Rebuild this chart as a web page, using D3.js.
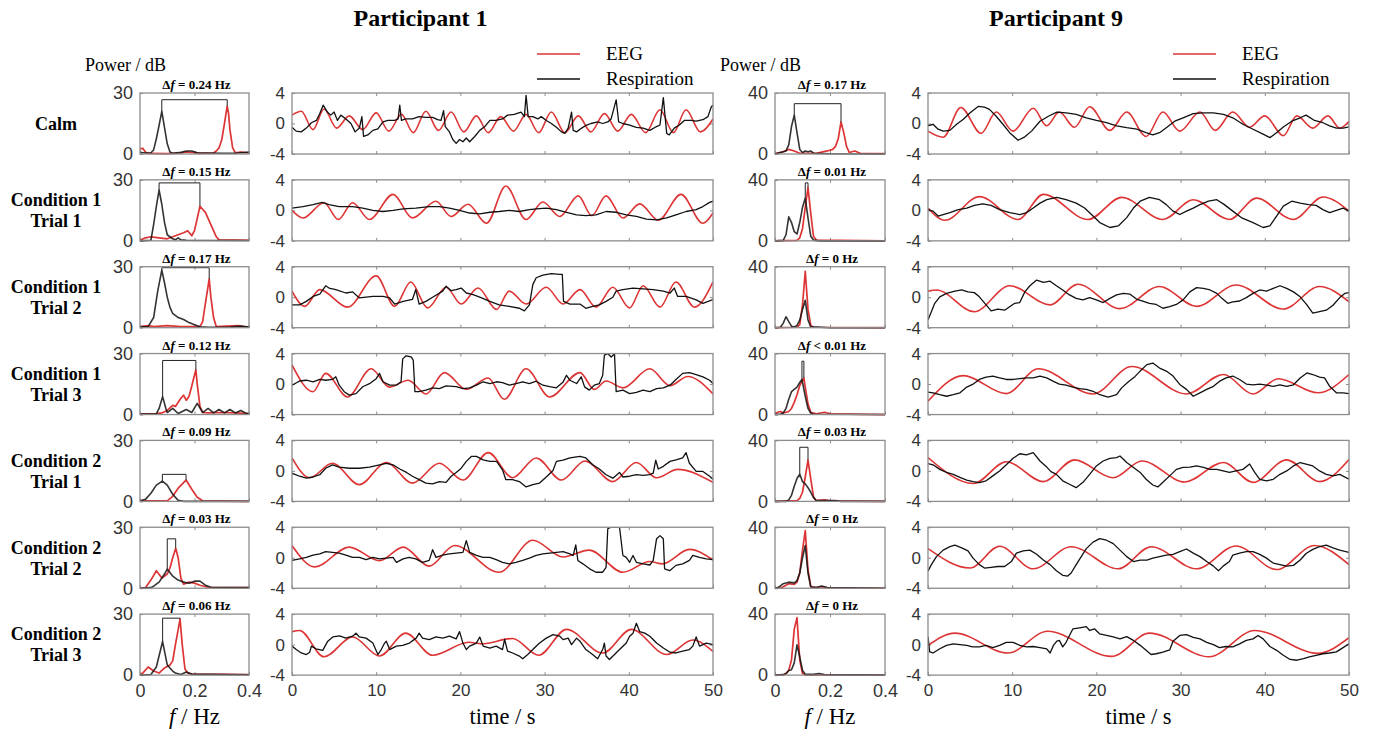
<!DOCTYPE html>
<html lang="en">
<head>
<meta charset="UTF-8">
<title>EEG / respiration coupling</title>
<style>
  html, body { margin: 0; padding: 0; background: #fff; }
  svg { display: block; }
</style>
</head>
<body>
<svg id="chart" width="1373" height="730"></svg>
<script src="https://d3js.org/d3.v7.min.js"></script>
<script>

// row labels and the peak offset text above every spectrum
var conditionLabels = [["Calm"], ["Condition 1", "Trial 1"], ["Condition 1", "Trial 2"], ["Condition 1", "Trial 3"],
                       ["Condition 2", "Trial 1"], ["Condition 2", "Trial 2"], ["Condition 2", "Trial 3"]];
var p1DeltaF = ["= 0.24", "= 0.15", "= 0.17", "= 0.12", "= 0.09", "= 0.03", "= 0.06"];
var p9DeltaF = ["= 0.17", "= 0.01", "= 0", "< 0.01", "= 0.03", "= 0", "= 0"];

// power spectra, [f in Hz, power in dB]
var p1SpecResp = [
  [[0,0.8],[0.02,0.5],[0.04,0.6],[0.05,2],[0.06,7.5],[0.07,14],[0.08,21],[0.09,13],[0.1,5],[0.11,1],[0.12,0.4],[0.15,0.8],[0.17,1.5],[0.19,1.5],[0.21,0.6],[0.25,0.5],[0.3,0.4],[0.35,0.4],[0.4,1.0]],
  [[0,0],[0.04,0.3],[0.05,8],[0.06,17],[0.07,25],[0.08,18],[0.09,9],[0.1,3],[0.12,1],[0.13,0.5],[0.14,1.5],[0.15,0.5],[0.17,0.3],[0.4,0.2]],
  [[0,0.5],[0.03,0.5],[0.05,5],[0.065,18],[0.08,28.3],[0.09,22],[0.1,15],[0.11,10],[0.12,7],[0.14,5],[0.16,4],[0.18,2.5],[0.2,1.5],[0.22,0.5],[0.25,0.2],[0.33,0.3],[0.37,0.8],[0.4,0.3]],
  [[0,0.3],[0.06,0.3],[0.07,3],[0.083,8.8],[0.095,3],[0.1,1],[0.12,3],[0.14,0.5],[0.17,2.5],[0.19,1],[0.21,5.5],[0.23,1],[0.25,3],[0.27,0.8],[0.29,2.5],[0.31,0.8],[0.33,2.5],[0.35,0.8],[0.37,2],[0.39,0.5],[0.4,0.5]],
  [[0,0.3],[0.02,1],[0.04,4],[0.06,8],[0.082,10],[0.1,8],[0.12,3.5],[0.14,0.5],[0.16,0],[0.4,0]],
  [[0,0],[0.04,0.3],[0.05,1],[0.07,3],[0.09,7],[0.1,9.4],[0.12,6],[0.14,4],[0.16,3],[0.18,2.5],[0.2,3.5],[0.22,3.5],[0.24,1.5],[0.26,0.5],[0.4,0.3]],
  [[0,0],[0.04,0.3],[0.06,4],[0.083,16.5],[0.1,5],[0.12,2],[0.13,1],[0.15,0.3],[0.17,1.5],[0.19,0.5],[0.4,0.2]]
];
var p1SpecEeg = [
  [[0,2.5],[0.01,2.8],[0.02,1],[0.03,0.3],[0.1,0.2],[0.15,0.5],[0.17,1],[0.19,0.8],[0.22,0.3],[0.27,0.5],[0.28,1.5],[0.29,3],[0.3,7],[0.31,15],[0.32,23.5],[0.325,20],[0.33,12],[0.34,3],[0.35,0.6],[0.37,1],[0.38,0.8],[0.4,0.5]],
  [[0,0.3],[0.02,1.5],[0.04,2],[0.07,1.5],[0.1,1],[0.13,2.5],[0.16,4],[0.175,5],[0.19,2.5],[0.2,5],[0.21,11],[0.22,17],[0.24,14],[0.26,8],[0.28,2],[0.29,0.5],[0.4,0.3]],
  [[0,0.5],[0.03,1],[0.05,0.5],[0.1,1],[0.15,0.5],[0.22,0.5],[0.23,3],[0.24,12],[0.254,24],[0.26,15],[0.27,5],[0.28,0.5],[0.36,1],[0.38,0.5],[0.4,0.3]],
  [[0,0.3],[0.06,0.5],[0.08,0.8],[0.1,2],[0.12,4.5],[0.13,4],[0.15,8],[0.16,9.5],[0.17,7],[0.18,9],[0.19,14],[0.205,22],[0.21,15],[0.22,4],[0.23,1],[0.25,0.8],[0.3,1],[0.35,0.8],[0.4,0.5]],
  [[0,0.3],[0.05,0.3],[0.1,0.3],[0.12,2.5],[0.14,6.5],[0.169,10.5],[0.19,6],[0.21,2],[0.23,0.3],[0.4,0]],
  [[0,0],[0.02,0.3],[0.04,4],[0.06,8.6],[0.08,5],[0.1,7],[0.11,10],[0.12,15],[0.131,19.7],[0.14,15],[0.15,5],[0.16,2],[0.18,3],[0.2,2.5],[0.22,1.5],[0.25,0.5],[0.4,0.3]],
  [[0,0.3],[0.01,1],[0.03,4],[0.05,2],[0.07,1],[0.09,3.5],[0.11,5],[0.12,7],[0.13,15],[0.147,27.5],[0.155,15],[0.165,3],[0.175,1],[0.19,0.5],[0.4,0.3]]
];
var p9SpecResp = [
  [[0,0],[0.02,1],[0.04,2],[0.05,6],[0.06,18],[0.07,25.5],[0.08,14],[0.09,3],[0.1,1],[0.11,2],[0.12,1.5],[0.13,2],[0.14,0.5],[0.2,0.2],[0.4,0]],
  [[0,0],[0.03,0.3],[0.04,4],[0.05,15.8],[0.06,12],[0.07,6],[0.08,4.5],[0.09,12],[0.1,22],[0.11,28],[0.12,15],[0.13,3],[0.14,0.5],[0.16,0],[0.4,0]],
  [[0,0],[0.02,0.3],[0.03,3],[0.04,7.2],[0.05,4],[0.06,1],[0.07,0.5],[0.08,1.5],[0.09,5],[0.1,12],[0.11,18],[0.12,5],[0.13,0.5],[0.15,0.5],[0.2,0],[0.4,0]],
  [[0,0],[0.02,0.3],[0.03,1],[0.04,4],[0.05,10],[0.06,15],[0.07,16.5],[0.08,18],[0.09,21],[0.098,23],[0.11,12],[0.12,4],[0.13,1],[0.14,0.2],[0.4,0]],
  [[0,0],[0.04,0],[0.05,1],[0.06,4],[0.07,10],[0.08,15],[0.09,17.8],[0.1,13],[0.11,11.5],[0.12,9],[0.13,6],[0.14,2.5],[0.15,0.5],[0.22,0.5],[0.24,0],[0.4,0]],
  [[0,0],[0.01,0.5],[0.02,1.5],[0.03,3],[0.05,4],[0.07,3.5],[0.08,5],[0.09,10],[0.1,20],[0.11,28],[0.12,10],[0.13,1],[0.15,0.5],[0.17,1.5],[0.19,0.5],[0.4,0]],
  [[0,0],[0.03,0.3],[0.04,1],[0.05,3],[0.06,3.5],[0.07,8],[0.08,19.8],[0.09,12],[0.1,3],[0.11,0.5],[0.14,0.5],[0.16,1],[0.18,0.3],[0.4,0]]
];
var p9SpecEeg = [
  [[0,0.3],[0.03,1.5],[0.05,3],[0.07,2],[0.09,0.5],[0.15,0.5],[0.19,2],[0.21,3],[0.22,5],[0.23,10],[0.24,21],[0.25,14],[0.26,5],[0.27,1],[0.29,2],[0.31,0.5],[0.4,0.2]],
  [[0,0],[0.08,0.3],[0.09,2],[0.1,8],[0.11,22],[0.12,35],[0.13,18],[0.14,3],[0.15,0.5],[0.4,0]],
  [[0,0],[0.08,0.3],[0.09,2],[0.1,15],[0.11,37],[0.12,12],[0.13,1.5],[0.14,0.3],[0.4,0]],
  [[0,0.5],[0.01,1.5],[0.02,2],[0.03,1],[0.05,2],[0.06,4],[0.07,8],[0.08,13],[0.09,19],[0.105,24],[0.11,18],[0.12,7],[0.13,1.5],[0.15,0.5],[0.18,1.5],[0.2,0.5],[0.4,0]],
  [[0,0],[0.08,0.5],[0.09,2],[0.1,6],[0.11,16],[0.12,27],[0.13,15],[0.14,3],[0.15,0.5],[0.18,1],[0.2,0.3],[0.4,0]],
  [[0,0],[0.02,0],[0.03,1],[0.05,3],[0.07,2.5],[0.08,4],[0.09,10],[0.1,25],[0.11,37.8],[0.12,12],[0.13,1],[0.15,0.5],[0.17,1],[0.19,0.3],[0.4,0]],
  [[0,0],[0.03,0],[0.04,1],[0.05,3],[0.06,10],[0.07,30],[0.08,37.7],[0.09,10],[0.1,1],[0.11,0],[0.4,0]]
];
// height of the bracket joining the two peaks (null: peaks coincide)
var p1BracketTop = [26.7, 28.5, 29.5, 26.6, 13.3, 24.3, 28];
var p9BracketTop = [33, 38, null, 35, 35.5, null, null];

// filtered EEG, turning points [t in s, amplitude]
var p1Eeg = [
  [[0,1.1],[1.1,1.6],[2.5,-0.8],[3.8,1.9],[5.3,-0.6],[6.8,1.0],[8.4,-0.8],[10.0,1.4],[11.5,-1.0],[13.0,1.2],[14.4,-1.2],[15.9,1.6],[17.4,-0.9],[18.9,1.5],[20.4,-1.1],[21.9,1.0],[23.3,-1.2],[24.8,0.9],[26.3,-1.0],[27.8,1.2],[29.3,-1.2],[30.8,1.5],[32.4,-1.2],[34.0,1.0],[35.5,-1.1],[37.1,1.3],[38.7,-1.0],[40.3,1.2],[42.0,-1.2],[43.7,1.8],[45.3,-1.2],[46.8,1.8],[48.5,-1.1],[50,0.6]],
  [[0,0],[1.3,-1.0],[3.8,1.0],[5.5,-1.2],[7.2,1.0],[9.2,-1.2],[12.0,2.1],[14.3,-1.0],[17.1,1.2],[18.9,-0.8],[20.9,0.8],[23.1,-1.7],[25.4,3.2],[27.8,-1.2],[29.8,1.1],[31.8,-0.8],[34.0,1.9],[35.6,-0.7],[37.3,1.9],[39.3,-1.0],[41.3,0.85],[43.5,-1.3],[46.2,2.1],[48.8,-1.7],[50,-0.35]],
  [[0,0.8],[1.5,-1.2],[3.3,1.0],[6.6,-1.3],[10.0,2.8],[12.2,-1.2],[14.1,2.0],[16.1,-1.4],[18.3,1.3],[20.1,-0.9],[22.1,1.2],[24.3,-1.6],[25.8,0.8],[27.8,-0.9],[30.2,1.3],[32.2,-0.9],[34.2,1.0],[36.1,-1.3],[38.1,1.3],[40.1,-1.4],[41.7,1.5],[43.7,-1.3],[45.6,2.0],[47.8,-1.3],[50,2.0]],
  [[0,2.5],[2.5,-1.0],[4.0,1.4],[6.6,-1.7],[9.4,2.0],[11.6,-0.4],[13.8,0.5],[15.9,-1.3],[18.1,1.5],[20.7,-0.7],[23.3,0.8],[25.2,-2.0],[27.8,2.0],[30.6,-1.7],[34.2,1.5],[35.9,-0.7],[37.3,0.4],[39.3,-0.5],[42.5,2.0],[44.9,-0.2],[47.0,1.0],[50,-1.3]],
  [[0,1.7],[2.1,-0.9],[4.8,1.0],[8.0,-1.8],[11.2,1.1],[14.3,-1.6],[17.5,1.0],[20.3,-1.2],[23.3,2.4],[26.2,-0.9],[29.0,1.7],[32.0,-1.2],[34.8,1.3],[38.1,-1.4],[40.9,1.1],[43.3,-0.9],[45.8,0.2],[50,-1.5]],
  [[0,1.6],[2.7,-1.2],[6.8,1.4],[10.4,-0.4],[13.2,1.4],[16.3,-1.1],[19.3,1.6],[24.6,-1.9],[28.6,2.3],[32.2,0.1],[35.3,1.0],[39.3,-1.9],[42.5,-0.5],[44.0,-0.8],[47.2,1.1],[50,-0.3]],
  [[0,1.7],[0.9,1.85],[3.8,-1.6],[7.2,1.0],[10.4,-1.5],[13.5,1.5],[16.7,-1.4],[21.0,0.3],[22.5,0.1],[26.2,0.8],[29.3,-1.4],[32.6,2.0],[36.9,-1.1],[40.3,2.0],[44.5,-1.3],[47.6,0.6],[50,-0.9]]
];
var p9Eeg = [
  [[0,-1.0],[1.8,-1.8],[3.9,2.1],[6.3,-1.3],[8.1,1.5],[10.1,-1.0],[12.5,2.0],[14.1,-0.3],[15.6,1.5],[17.4,-0.5],[19.2,2.2],[21.6,-0.9],[23.6,1.5],[25.9,-1.7],[27.9,1.5],[29.9,-1.0],[32.3,1.5],[34.1,-0.9],[36.2,1.5],[38.2,-0.5],[40.0,1.0],[42.2,-1.6],[43.8,1.0],[45.7,-0.6],[47.5,1.0],[48.9,-0.6],[50,0.3]],
  [[0,0.3],[2.0,-1.3],[6.1,1.8],[10.7,-1.2],[13.7,2.1],[19.0,-1.2],[23.0,1.7],[27.9,-1.2],[31.5,1.4],[35.8,-1.2],[39.0,1.6],[43.4,-1.2],[46.9,1.75],[50,-0.1]],
  [[0,0.8],[1.0,0.95],[5.5,-1.9],[9.7,1.5],[14.5,-1.0],[17.8,1.7],[22.8,-1.5],[27.5,1.4],[31.9,-1.2],[36.6,1.6],[42.2,-1.55],[46.5,1.4],[50,-0.6]],
  [[0,-2.25],[4.2,1.1],[9.3,-1.25],[13.1,2.0],[19.6,-1.3],[24.2,2.3],[30.7,-1.3],[35.1,1.25],[38.6,-1.3],[41.6,0.7],[46.3,-1.15],[50,1.25]],
  [[0,1.75],[5.4,-1.65],[9.3,1.2],[13.7,-1.4],[17.4,1.45],[22.0,-0.9],[25.4,1.3],[30.5,-1.45],[35.1,1.1],[38.6,-1.5],[42.6,1.45],[46.5,-1.4],[50,1.5]],
  [[0,1.2],[5.0,-1.35],[8.5,1.5],[12.5,-1.45],[17.0,1.45],[22.6,-1.45],[26.5,1.45],[31.9,-1.45],[36.6,1.55],[41.4,-1.55],[45.9,1.6],[50,-0.9]],
  [[0,-0.1],[3.2,1.5],[9.5,-1.1],[14.2,1.75],[21.8,-1.55],[26.3,1.5],[33.4,-1.6],[38.8,1.85],[46.3,-1.15],[50,0.9]]
];

// respiration traces [t in s, amplitude]
var p1Resp = [
  [[0,-0.5],[0.5,-1.0],[1.1,-1.1],[1.7,-0.6],[2.3,0.1],[2.9,0.4],[3.3,1.3],[3.7,2.4],[4.2,1.5],[4.6,1.1],[5.0,1.5],[5.4,0.4],[5.8,1.1],[6.4,0.6],[7.0,0],[7.5,-1.1],[8.0,-0.6],[8.3,0.9],[8.5,-1.7],[9.0,-1.5],[9.6,-0.9],[10.2,-0.7],[10.8,0.2],[11.4,0.4],[12.2,0.4],[12.6,0.6],[12.8,2.4],[13.0,0.4],[13.5,0.6],[14.3,0.6],[15.1,0.9],[15.9,0.8],[16.7,0.8],[17.3,0.5],[17.7,0.4],[18.0,1.7],[18.2,-0.4],[18.7,-1.1],[19.1,-2.1],[19.5,-2.6],[19.9,-2.1],[20.3,-2.4],[20.7,-1.9],[21.1,-2.4],[21.7,-1.7],[22.3,-0.9],[22.9,-0.4],[23.5,0.4],[24.2,0.4],[25.0,0.6],[25.6,1.1],[26.4,1.2],[27.2,1.5],[27.6,0.9],[27.8,3.7],[28.05,0.9],[28.6,0.9],[29.2,0.6],[29.6,0.9],[30.2,0.4],[30.8,0],[31.4,-0.5],[32.0,-1.1],[32.4,-1.3],[32.8,-0.6],[33.2,1.5],[33.4,-0.9],[33.8,-1.1],[34.4,-0.6],[35.0,-0.2],[35.5,0],[36.3,0.2],[36.9,0],[37.5,0.2],[37.9,0.6],[38.5,3.1],[38.8,0.2],[39.3,0],[40.1,-0.2],[40.9,-0.5],[41.7,-0.6],[42.5,-0.9],[43.3,-0.4],[43.7,-0.2],[44.1,3.4],[44.5,-1.3],[44.8,-1.5],[45.4,-0.6],[46.0,-0.2],[46.6,0.4],[47.4,0.4],[48.0,0.3],[48.8,0.5],[49.4,0.9],[49.8,2.2],[50,2.4]],
  [[0,0.3],[1.3,0.5],[2.5,0.75],[3.6,1.05],[4.4,0.75],[5.6,0.5],[7.2,0.5],[8.4,0.3],[9.6,0],[10.8,-0.15],[12.0,0],[13.2,0.2],[14.7,0.3],[16.3,0.5],[17.5,0.5],[18.7,0.3],[19.9,0],[21.1,-0.35],[22.3,-0.45],[23.5,-0.25],[24.6,-0.15],[25.8,0],[27.0,-0.15],[28.2,0.1],[29.0,0.2],[30.2,0.3],[31.4,0.1],[32.6,-0.25],[33.8,-0.6],[34.9,-0.7],[36.1,-0.6],[37.3,-0.15],[38.5,-0.25],[39.7,-0.6],[40.9,-0.8],[42.1,-1.15],[43.3,-1.25],[44.5,-1.0],[45.6,-0.6],[46.8,-0.15],[48.0,0.1],[48.8,0.5],[49.6,1.05],[50,1.2]],
  [[0,-1.0],[0.9,-1.0],[1.7,-0.55],[2.5,0.1],[3.3,0.4],[4.0,1.5],[4.4,1.2],[5.2,1.0],[6.4,0.55],[7.2,0.7],[8.0,-0.1],[8.8,0],[9.6,0.1],[10.8,0.1],[11.6,-0.1],[12.2,-0.9],[13.2,-0.55],[14.3,-0.3],[14.7,1.0],[15.1,-0.9],[15.9,-0.55],[16.7,0],[17.9,0.8],[18.3,1.45],[18.9,0.85],[19.5,1.0],[20.1,1.2],[20.7,0.55],[21.5,0.35],[22.3,0],[23.5,-0.55],[24.6,-1.0],[25.8,-1.2],[27.0,-1.45],[27.6,-1.8],[28.2,-1.0],[28.6,1.65],[29.0,2.55],[29.8,2.9],[30.8,3.1],[31.8,3.0],[32.1,3.0],[32.25,-0.55],[33.0,-0.9],[34.2,-0.9],[34.9,-1.45],[35.7,-1.2],[36.5,-1.0],[37.3,-0.55],[38.1,0],[38.5,0.8],[39.3,1.0],[40.5,1.2],[41.7,1.1],[42.9,1.0],[44.1,0.8],[44.9,0.55],[45.4,1.2],[45.8,0.1],[46.8,0.1],[48.0,-0.35],[48.8,-0.8],[50,-0.3]],
  [[0,-0.15],[0.9,0.4],[1.7,0.5],[2.5,0.3],[3.3,0.6],[4.0,0.5],[4.8,0.6],[5.2,0.95],[5.6,-0.15],[6.2,-1.0],[6.8,-1.45],[7.6,-1.25],[8.4,-0.35],[9.2,0.05],[10.0,0.7],[10.4,1.4],[10.8,0.3],[11.6,-0.15],[12.4,-0.15],[12.95,0.3],[13.15,3.3],[13.55,3.7],[14.15,3.55],[14.4,3.15],[14.6,-1.0],[15.1,-1.0],[15.9,-0.8],[16.7,-0.5],[17.5,-0.6],[18.3,-0.25],[19.5,-0.35],[20.3,-0.6],[21.1,-0.5],[21.9,-0.15],[22.7,0.3],[23.5,0.07],[24.3,0.3],[25.0,0.2],[25.8,-0.15],[26.6,0.07],[27.4,0.3],[28.2,0.07],[29.0,0.37],[29.8,-0.15],[30.6,-0.35],[31.4,-0.5],[32.2,0.28],[32.6,1.15],[33.0,0.5],[33.8,0.07],[34.35,0.95],[34.75,-0.37],[35.3,-0.8],[35.9,-0.15],[36.5,0.07],[36.9,1.15],[37.1,3.8],[37.5,4.0],[37.9,3.55],[38.3,3.95],[38.5,-1.0],[39.3,-0.8],[40.1,-1.25],[40.9,-1.1],[41.7,-0.8],[42.5,-1.0],[43.3,-0.6],[44.1,-0.5],[44.9,-0.15],[45.6,0.6],[46.4,1.4],[47.2,1.5],[48.0,1.25],[48.8,0.95],[49.6,0.5],[50,0.07]],
  [[0,-0.3],[0.9,-0.7],[1.7,-0.95],[2.5,-0.8],[3.3,-0.5],[4.0,0.35],[4.8,0.8],[5.6,0.5],[6.8,0.35],[8.0,0.35],[9.2,0.5],[10.0,0.7],[11.2,1.0],[12.0,0.8],[12.8,0.25],[13.6,-0.2],[14.3,-0.7],[15.1,-1.15],[15.9,-1.6],[16.7,-1.7],[17.5,-1.4],[18.3,-1.5],[18.9,-0.7],[19.5,-0.2],[20.1,0.35],[20.7,1.25],[21.3,1.9],[21.9,1.9],[22.7,1.45],[23.5,1.25],[24.3,1.25],[25.0,0.15],[25.4,-1.15],[26.2,-1.15],[27.0,-1.4],[27.8,-2.1],[28.6,-1.8],[29.4,-1.6],[30.2,-0.8],[31.0,0.05],[31.4,1.25],[32.2,1.4],[33.0,1.7],[34.2,1.9],[34.9,1.7],[35.7,0.8],[36.5,0.25],[37.3,-0.5],[38.1,-0.95],[38.9,-0.2],[39.3,-0.8],[40.1,-0.7],[40.9,-0.5],[41.7,-0.6],[42.5,-0.5],[42.9,-0.3],[43.2,1.4],[43.5,0.25],[44.1,0.6],[44.9,1.25],[45.6,1.45],[46.4,1.7],[46.8,2.4],[47.2,1.0],[48.0,-0.07],[48.8,-0.07],[49.6,-0.7],[50,-1.1]],
  [[0,-0.35],[0.9,-0.15],[1.7,0.05],[2.5,0.35],[3.3,0.5],[4.0,0.8],[4.8,0.7],[5.6,0.6],[6.4,0.35],[7.2,0.05],[8.0,0.05],[8.8,-0.25],[9.6,0.05],[10.4,-0.15],[11.2,-0.05],[12.0,0.05],[12.4,-0.6],[13.2,-0.15],[13.9,0.05],[14.7,-0.15],[15.5,-0.6],[16.3,-0.35],[16.7,1.05],[17.1,0.05],[17.9,0.35],[18.7,0.5],[19.5,0.6],[20.3,0.7],[20.7,2.25],[21.1,0.7],[21.9,0.3],[22.7,0.05],[23.5,0.05],[24.25,-0.25],[25.0,-0.6],[25.8,-0.8],[26.6,-0.6],[27.4,-0.35],[28.2,-0.05],[29.0,0.3],[29.8,0.5],[30.6,0.6],[31.4,0.7],[32.2,0.8],[33.0,0.5],[33.4,0.3],[33.7,1.7],[33.95,-0.35],[34.55,-0.8],[35.35,-1.45],[36.1,-1.9],[36.9,-1.9],[37.3,-1.25],[37.5,3.8],[37.9,4.0],[38.5,4.0],[38.9,4.0],[39.3,0.3],[39.7,0.05],[40.1,-0.6],[40.5,0.3],[40.9,-0.6],[41.7,-0.8],[42.5,-0.95],[42.9,-0.35],[43.3,2.5],[43.7,2.9],[44.1,2.5],[44.25,-1.45],[44.85,-1.7],[45.6,-1.0],[46.4,-0.8],[47.2,-0.35],[47.6,0.3],[48.4,0.05],[49.2,-0.15],[50,-0.25]],
  [[0,-0.2],[0.5,-0.65],[1.1,-1.1],[1.7,-1.3],[2.1,-1.0],[2.3,-0.2],[2.85,-0.55],[3.65,-0.75],[4.25,0.45],[4.85,1.0],[5.65,1.15],[6.4,0.85],[7.2,1.1],[7.6,1.5],[8.0,1.0],[8.8,0.85],[9.6,0.2],[10.2,-1.3],[10.6,-0.65],[11.0,0.2],[11.2,0.45],[11.6,-0.65],[12.4,-0.2],[13.15,-0.1],[13.95,0.2],[14.75,0.85],[15.1,1.5],[15.5,0.85],[16.3,0.65],[17.1,1.0],[17.9,0.85],[18.7,1.1],[19.5,0.75],[19.9,1.7],[20.3,0.2],[20.7,-0.65],[21.1,-0.2],[21.9,0.2],[22.3,1.0],[22.7,-0.2],[23.5,-0.45],[24.25,-0.2],[25.0,-0.65],[25.25,0.7],[25.6,-0.85],[26.2,-1.1],[27.0,-1.5],[27.4,-1.85],[28.0,-1.3],[28.6,-0.65],[29.4,0.2],[30.2,0.85],[31.0,1.3],[31.8,1.1],[32.2,0.65],[32.8,0.85],[33.2,0],[33.8,0.85],[34.2,0.45],[34.9,-0.65],[35.7,-1.3],[36.3,-1.85],[36.9,-0.65],[37.1,0.2],[37.3,-1.5],[37.7,-1.95],[38.3,-1.3],[38.9,-0.65],[39.7,0.2],[40.1,1.1],[40.5,1.5],[40.9,2.8],[41.3,1.7],[41.9,1.5],[42.5,1.1],[43.3,0.2],[44.1,-0.45],[44.9,-1.0],[45.6,-1.1],[46.4,-0.85],[47.2,-0.65],[47.6,-0.2],[48.0,1.0],[48.4,-0.2],[49.2,0.2],[50,0]]
];
var p9Resp = [
  [[0,-0.3],[0.6,-0.1],[1.2,-0.75],[1.8,-1.0],[2.6,-0.9],[3.4,-0.1],[4.2,0.55],[5.0,1.4],[6.0,2.25],[6.7,2.15],[7.3,1.85],[8.1,0.95],[8.9,-0.1],[9.7,-1.2],[10.7,-2.2],[11.5,-1.75],[12.3,-1.0],[13.3,0.3],[14.3,0.95],[15.3,1.5],[16.4,1.4],[17.6,1.2],[18.8,0.75],[20.0,0.4],[21.2,0.1],[22.4,-0.3],[23.6,-0.55],[24.8,-0.75],[25.9,-1.2],[26.7,-1.5],[27.5,-1.2],[28.3,-0.55],[29.3,0.3],[30.3,0.75],[31.5,1.3],[32.7,1.4],[33.9,1.4],[35.1,1.2],[36.2,0.75],[37.4,-0.1],[38.6,-0.75],[39.8,-1.4],[40.6,-1.85],[41.4,-1.2],[42.2,-0.45],[43.2,0.3],[44.2,0.75],[44.9,1.1],[45.9,0.4],[46.9,0.1],[47.7,-0.3],[48.5,-0.6],[49.3,-0.6],[50,-0.45]],
  [[0,0.1],[0.6,-0.1],[1.2,-0.75],[1.8,-0.55],[2.6,-0.3],[3.6,0.1],[4.6,0.3],[5.5,0.65],[6.5,0.85],[7.5,0.65],[8.5,0.1],[9.7,-0.3],[10.9,-0.55],[11.7,-0.3],[12.5,0.3],[13.3,0.95],[14.1,1.4],[15.3,1.7],[16.4,1.4],[17.6,0.95],[18.6,0.3],[19.6,-0.75],[20.4,-1.6],[21.6,-2.25],[22.6,-2.05],[23.6,-0.95],[24.4,0.3],[25.2,1.2],[26.3,1.7],[27.5,1.4],[28.3,0.75],[29.1,-0.1],[29.9,-0.55],[30.7,-0.1],[31.5,0.3],[32.3,0.75],[33.3,1.2],[34.3,1.4],[35.2,0.75],[36.2,-0.1],[37.2,-0.95],[38.6,-1.6],[39.8,-2.25],[40.6,-2.05],[41.4,-0.75],[42.2,0.55],[43.2,1.2],[44.2,0.95],[45.2,0.75],[46.1,0.65],[46.9,0.1],[47.7,-0.3],[48.5,0],[49.3,0.3],[50,-0.1]],
  [[0,-3.0],[0.4,-1.9],[0.8,-0.8],[1.4,0.05],[2.2,0.5],[3.2,0.8],[4.0,0.95],[4.75,0.7],[5.5,0.6],[6.1,0.05],[6.9,-1.0],[7.5,-1.8],[8.3,-1.55],[9.1,-1.7],[9.7,-1.25],[10.3,-0.8],[10.9,-0.7],[11.5,0.7],[12.1,1.5],[12.9,2.25],[13.7,1.95],[14.5,2.1],[15.25,1.5],[16.0,0.95],[16.8,0.3],[17.6,-0.15],[18.4,-0.35],[19.2,-0.05],[20.0,-0.35],[20.8,-0.7],[21.6,-0.15],[22.4,0.3],[23.2,0.5],[24.0,0.4],[24.75,-0.25],[25.5,-0.5],[26.3,-0.8],[27.1,-0.95],[27.9,-1.45],[28.7,-1.25],[29.5,-0.95],[30.3,-0.35],[31.1,0.7],[31.9,1.25],[32.7,1.15],[33.5,0.95],[34.3,0.5],[34.9,-0.15],[35.6,-0.8],[36.2,-0.6],[37.0,-0.5],[37.8,-0.05],[38.6,0.5],[39.4,0.95],[40.2,0.8],[41.0,1.15],[41.8,1.5],[42.6,1.15],[43.4,0.7],[44.2,0.05],[45.0,-1.0],[45.7,-2.1],[46.5,-1.9],[47.3,-1.7],[48.1,-1.05],[48.9,-0.05],[49.5,0.5],[50,0.6]],
  [[0,-1.05],[0.6,-1.15],[1.4,-1.4],[2.2,-1.6],[3.0,-1.4],[3.8,-1.15],[4.6,-0.4],[5.3,-0.05],[6.1,0.6],[6.9,0.9],[7.7,1.05],[8.5,0.8],[9.3,0.6],[10.1,0.6],[10.9,0.7],[11.7,0.8],[12.5,0.8],[13.3,1.05],[14.1,0.8],[14.9,0.35],[15.6,0],[16.4,-0.15],[17.2,-0.4],[18.0,-0.6],[18.8,-0.7],[19.6,-0.95],[20.4,-1.4],[21.4,-1.7],[22.4,-1.4],[23.0,-0.5],[23.8,0.3],[24.6,1.0],[25.2,1.7],[26.0,2.55],[26.7,2.75],[27.5,2.1],[28.3,1.7],[29.1,1.05],[29.9,-0.05],[30.7,-0.7],[31.5,-1.6],[32.3,-1.15],[33.1,-0.7],[33.9,-0.3],[34.6,0.35],[35.4,0.8],[36.2,1.05],[37.0,0.6],[37.8,0],[38.6,-0.1],[39.4,0],[40.2,-0.15],[41.0,-0.3],[41.8,-0.1],[42.6,-0.3],[43.4,-0.1],[44.2,0.8],[45.0,1.45],[45.7,1.25],[46.5,0.9],[47.1,0.8],[47.7,-0.3],[48.5,-1.15],[49.3,-1.15],[50,-1.25]],
  [[0,0.95],[0.6,0.8],[1.4,0.2],[2.2,-0.2],[3.0,-0.45],[3.8,-0.85],[4.6,-1.2],[5.35,-1.4],[6.1,-1.55],[6.9,-1.3],[7.7,-0.65],[8.5,0],[9.3,0.8],[10.1,1.65],[10.9,2.25],[11.7,2.1],[12.5,2.4],[13.3,1.3],[14.1,0.5],[14.6,-0.1],[15.25,-0.45],[16.0,-1.3],[16.8,-1.75],[17.6,-2.2],[18.4,-1.5],[19.2,-0.45],[20.0,0.65],[20.8,1.3],[21.6,1.65],[22.4,1.75],[22.8,1.95],[23.6,1.1],[24.4,0.45],[25.2,-0.2],[25.9,-1.1],[26.7,-1.85],[27.3,-2.1],[27.9,-1.5],[28.7,-0.65],[29.5,0.2],[30.3,0.45],[31.1,0.5],[31.9,0.65],[32.7,0.45],[33.5,0.2],[34.3,0.2],[35.05,0],[35.8,-0.2],[36.6,0],[37.4,0.2],[38.2,0.9],[38.8,-0.2],[39.4,-1.1],[40.2,-1.3],[41.0,-1.1],[41.8,-0.45],[42.6,0],[43.4,0.65],[44.2,1.1],[44.9,0.9],[45.7,0.65],[46.5,0],[47.3,-0.45],[48.1,-0.65],[48.9,-0.45],[50,-1.1]],
  [[0,-1.75],[0.4,-0.9],[1.0,0.15],[1.8,1.0],[2.6,1.45],[3.2,1.65],[4.0,1.3],[4.75,0.9],[5.35,-0.05],[6.1,-0.9],[6.7,-1.35],[7.5,-1.25],[8.3,-1.15],[9.1,-1.15],[9.9,-0.5],[10.5,0.6],[11.3,0.9],[12.1,1.0],[12.9,0.45],[13.7,-0.3],[14.5,-0.9],[15.25,-1.7],[16.0,-2.3],[16.6,-2.4],[17.0,-2.0],[17.6,-0.9],[18.2,0.15],[18.8,1.2],[19.6,2.05],[20.4,2.5],[21.2,2.3],[22.0,1.85],[22.8,1.0],[23.6,0.15],[24.4,-0.5],[25.2,-0.3],[26.0,-0.3],[26.7,-0.05],[27.5,0.15],[28.3,0.35],[29.1,0.45],[29.9,0.8],[30.7,1.15],[31.5,0.6],[32.3,0.15],[33.1,-0.5],[33.9,-1.1],[34.5,-1.7],[35.05,-1.1],[35.8,-0.5],[36.2,0.35],[37.0,0.6],[37.8,0.8],[38.6,0.8],[39.4,0.45],[40.2,-0.05],[41.0,-0.7],[41.8,-0.9],[42.6,-1.1],[43.4,-1.0],[44.2,-0.3],[44.9,0.55],[45.7,1.1],[46.5,1.45],[47.3,1.65],[48.1,1.3],[48.9,1.0],[50,0.7]],
  [[0,1.05],[0.2,-0.95],[0.6,-1.1],[1.4,-0.55],[2.2,-0.1],[3.0,0.1],[3.8,0],[4.6,-0.1],[5.3,-0.3],[6.1,-0.3],[6.9,-0.1],[7.7,-0.4],[8.5,-0.1],[9.3,0.3],[10.1,0.3],[10.9,-0.1],[11.7,-0.3],[12.5,-0.25],[13.3,-0.4],[14.1,-0.55],[14.5,-1.1],[14.9,-0.1],[15.3,0.45],[15.6,0.55],[16.0,-0.3],[16.4,0.3],[16.8,1.2],[17.2,2.05],[18.0,2.2],[18.8,2.35],[19.2,1.85],[19.8,2.05],[20.4,1.4],[21.2,1.2],[22.0,1.0],[22.8,0.75],[23.6,1.05],[24.4,0.55],[25.2,-0.1],[25.9,-0.75],[26.5,-1.3],[27.1,-1.2],[27.9,-1.0],[28.7,-0.7],[29.1,0.45],[29.9,1.2],[30.7,1.3],[31.5,0.95],[32.3,0.75],[33.1,0.3],[33.9,0],[34.6,-0.4],[35.4,-0.25],[36.2,-0.3],[37.0,0.1],[37.8,0.55],[38.6,0.75],[39.2,1.2],[39.8,0.75],[40.6,-0.25],[41.4,-0.75],[42.2,-1.4],[43.0,-1.95],[43.8,-2.05],[44.6,-1.85],[45.3,-1.6],[46.1,-1.4],[46.9,-1.2],[47.7,-1.1],[48.5,-0.95],[49.3,-0.4],[50,0.1]]
];

var svg = d3.select("#chart");
var red = "#dd3535", ink = "#111", frameGray = "#8c8c8c";
var rowTop = 93, rowGap = 86.85, rowH = 61;
var tickFont = '"Liberation Sans", Arial, sans-serif';
var serifFont = '"Liberation Serif", "Times New Roman", serif';

var participants = [
  { title: "Participant 1", specX: [140, 249], timeX: [292, 713], pMax: 30,
    specResp: p1SpecResp, specEeg: p1SpecEeg, bracket: p1BracketTop, delta: p1DeltaF,
    eeg: p1Eeg, resp: p1Resp, rowLabels: true },
  { title: "Participant 9", specX: [775, 885], timeX: [928, 1349], pMax: 40,
    specResp: p9SpecResp, specEeg: p9SpecEeg, bracket: p9BracketTop, delta: p9DeltaF,
    eeg: p9Eeg, resp: p9Resp, rowLabels: false }
];

var defs = svg.append("defs");

function serifText(parent, x, y, size) {
  return parent.append("text")
    .attr("x", x).attr("y", y)
    .attr("font-family", serifFont)
    .attr("font-size", size)
    .attr("fill", "#000");
}

function styleAxis(g, showLabels, size) {
  g.select(".domain").remove();
  g.selectAll(".tick line").attr("stroke", frameGray).attr("stroke-width", 1);
  g.selectAll(".tick text")
    .attr("font-family", tickFont)
    .attr("font-size", size || 17)
    .attr("fill", "#333")
    .style("display", showLabels ? null : "none");
}

function frame(g, x0, y0, w, h) {
  g.append("rect")
    .attr("x", x0).attr("y", y0).attr("width", w).attr("height", h)
    .attr("fill", "none").attr("stroke", frameGray).attr("stroke-width", 1.3);
}

participants.forEach(function (p, pi) {
  var lastRow = conditionLabels.length - 1;

  serifText(svg, (p.specX[0] + p.timeX[1]) / 2 - 6, 26, 24)
    .attr("text-anchor", "middle").attr("font-weight", "bold")
    .text(p.title);

  serifText(svg, p.specX[0] - 55, 71, 18).text("Power / dB");

  // legend
  var lg = svg.append("g");
  [["EEG", red, 54], ["Respiration", ink, 79]].forEach(function (item) {
    lg.append("line")
      .attr("x1", p.timeX[1] - 176).attr("x2", p.timeX[1] - 133)
      .attr("y1", item[2]).attr("y2", item[2])
      .attr("stroke", item[1]).attr("stroke-width", 1.6);
    serifText(lg, p.timeX[1] - 107, item[2] + 6, 19).text(item[0]);
  });

  conditionLabels.forEach(function (label, i) {
    var top = rowTop + i * rowGap, bottom = top + rowH;
    var g = svg.append("g");

    if (p.rowLabels) {
      var lt = serifText(g, 56, top + rowH / 2 - (label.length - 1) * 10.5, 18)
        .attr("text-anchor", "middle").attr("font-weight", "bold");
      label.forEach(function (line, k) {
        lt.append("tspan").attr("x", 56).attr("dy", k === 0 ? "0.35em" : 21).text(line);
      });
    }

    // ---- spectrum panel ----
    var fx = d3.scaleLinear().domain([0, 0.4]).range(p.specX);
    var py = d3.scaleLinear().domain([0, p.pMax]).range([bottom, top]);

    var sb = g.append("g").attr("transform", "translate(0," + bottom + ")")
      .call(d3.axisBottom(fx).tickValues([0, 0.2, 0.4]).tickSizeInner(-3).tickSizeOuter(0).tickPadding(9)
        .tickFormat(function (d) { return String(d); }));
    styleAxis(sb, i === lastRow, 18);
    var st = g.append("g").attr("transform", "translate(0," + top + ")")
      .call(d3.axisTop(fx).tickValues([0.2]).tickSizeInner(-3).tickSizeOuter(0));
    styleAxis(st, false);
    var sl = g.append("g").attr("transform", "translate(" + p.specX[0] + ",0)")
      .call(d3.axisLeft(py).tickValues([0, p.pMax]).tickSizeInner(-3).tickSizeOuter(0).tickPadding(7));
    styleAxis(sl, true, 18);

    var specLine = d3.line().x(function (d) { return fx(d[0]); }).y(function (d) { return py(d[1]); });
    g.append("path").attr("d", specLine(p.specEeg[i]))
      .attr("fill", "none").attr("stroke", red).attr("stroke-width", 1.7).attr("stroke-linejoin", "round");
    g.append("path").attr("d", specLine(p.specResp[i]))
      .attr("fill", "none").attr("stroke", ink).attr("stroke-opacity", 0.85).attr("stroke-width", 1.6).attr("stroke-linejoin", "round");

    // bracket from the respiration peak to the EEG peak
    if (p.bracket[i] !== null) {
      var pr = d3.greatest(p.specResp[i], function (d) { return d[1]; });
      var pe = d3.greatest(p.specEeg[i], function (d) { return d[1]; });
      var path = d3.path();
      path.moveTo(fx(pr[0]), py(pr[1]));
      path.lineTo(fx(pr[0]), py(p.bracket[i]));
      path.lineTo(fx(pe[0]), py(p.bracket[i]));
      path.lineTo(fx(pe[0]), py(pe[1]));
      g.append("path").attr("d", path.toString())
        .attr("fill", "none").attr("stroke", "#222").attr("stroke-width", 1);
    }
    frame(g, p.specX[0], top, p.specX[1] - p.specX[0], rowH);

    var dl = serifText(g, (p.specX[0] + p.specX[1]) / 2 + 2, top - 4, 13)
      .attr("text-anchor", "middle").attr("font-weight", "bold");
    dl.append("tspan").text("\u0394");
    dl.append("tspan").attr("font-style", "italic").text("f");
    dl.append("tspan").text(" " + p.delta[i] + " Hz");

    // ---- time panel ----
    var tx = d3.scaleLinear().domain([0, 50]).range(p.timeX);
    var ty = d3.scaleLinear().domain([-4, 4]).range([bottom, top]);

    var tb = g.append("g").attr("transform", "translate(0," + bottom + ")")
      .call(d3.axisBottom(tx).tickValues([0, 10, 20, 30, 40, 50]).tickSizeInner(-3).tickSizeOuter(0).tickPadding(9));
    styleAxis(tb, i === lastRow);
    var tt = g.append("g").attr("transform", "translate(0," + top + ")")
      .call(d3.axisTop(tx).tickValues([10, 20, 30, 40]).tickSizeInner(-3).tickSizeOuter(0));
    styleAxis(tt, false);
    var tl = g.append("g").attr("transform", "translate(" + p.timeX[0] + ",0)")
      .call(d3.axisLeft(ty).tickValues([-4, 0, 4]).tickSizeInner(-3).tickSizeOuter(0).tickPadding(7)
        .tickFormat(function (d) { return String(d); }));
    styleAxis(tl, true);
    var tr = g.append("g").attr("transform", "translate(" + p.timeX[1] + ",0)")
      .call(d3.axisRight(ty).tickValues([0]).tickSizeInner(-3).tickSizeOuter(0));
    styleAxis(tr, false);

    var clipId = "clip-" + pi + "-" + i;
    defs.append("clipPath").attr("id", clipId).append("rect")
      .attr("x", p.timeX[0]).attr("y", top).attr("width", p.timeX[1] - p.timeX[0]).attr("height", rowH);

    var plot = g.append("g").attr("clip-path", "url(#" + clipId + ")");
    var eegLine = d3.line().curve(d3.curveMonotoneX)
      .x(function (d) { return tx(d[0]); }).y(function (d) { return ty(d[1]); });
    var respLine = d3.line()
      .x(function (d) { return tx(d[0]); }).y(function (d) { return ty(d[1]); });
    plot.append("path").attr("d", eegLine(p.eeg[i]))
      .attr("fill", "none").attr("stroke", red).attr("stroke-width", 1.6);
    plot.append("path").attr("d", respLine(p.resp[i]))
      .attr("fill", "none").attr("stroke", ink).attr("stroke-width", 1.3).attr("stroke-linejoin", "round");

    frame(g, p.timeX[0], top, p.timeX[1] - p.timeX[0], rowH);
  });

  // axis titles under the last row
  var axisY = 724;
  var fl = serifText(svg, (p.specX[0] + p.specX[1]) / 2, axisY, 23).attr("text-anchor", "middle");
  fl.append("tspan").attr("font-style", "italic").text("f");
  fl.append("tspan").text(" / Hz");

  serifText(svg, (p.timeX[0] + p.timeX[1]) / 2, axisY, 22.5)
    .attr("text-anchor", "middle")
    .text("time / s");
});
</script>
</body>
</html>
